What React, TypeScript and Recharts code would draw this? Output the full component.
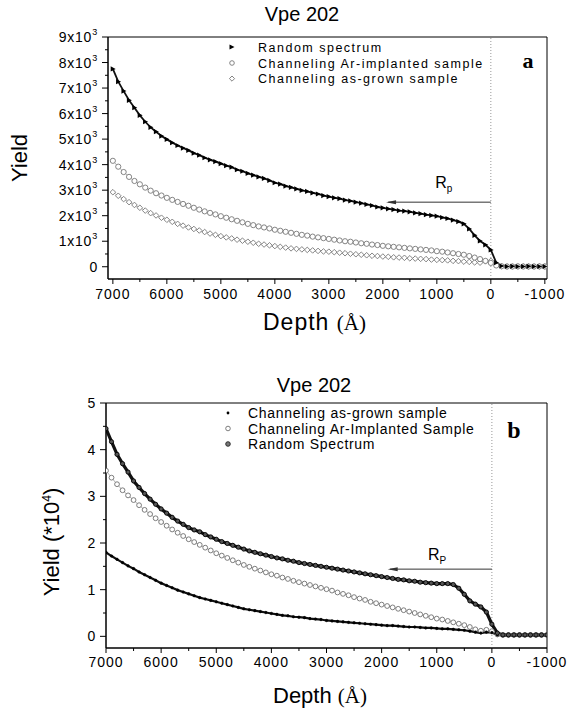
import React from 'react';
import { ComposedChart, Line, XAxis, YAxis, ReferenceLine, ReferenceDot, ReferenceArea } from 'recharts';

const FONT = '"Liberation Sans", Arial, Helvetica, sans-serif';
const SERIF = '"Liberation Serif", "Times New Roman", serif';

// Depth grid (Angstrom)
const DEPTH = [
  7000, 6900, 6800, 6700, 6600, 6500, 6400, 6300, 6200, 6100,
  6000, 5900, 5800, 5700, 5600, 5500, 5400, 5300, 5200, 5100,
  5000, 4900, 4800, 4700, 4600, 4500, 4400, 4300, 4200, 4100,
  4000, 3900, 3800, 3700, 3600, 3500, 3400, 3300, 3200, 3100,
  3000, 2900, 2800, 2700, 2600, 2500, 2400, 2300, 2200, 2100,
  2000, 1900, 1800, 1700, 1600, 1500, 1400, 1300, 1200, 1100,
  1000, 900, 800, 700, 600, 500, 400, 300, 200, 100,
  0, -100, -200, -300, -400, -500, -600, -700, -800, -900, -1000,
];

// Panel a (counts)
const RANDOM_A = [
  7750, 7250, 6880, 6520, 6230, 5930, 5680, 5460, 5290, 5120,
  4990, 4860, 4750, 4650, 4560, 4450, 4370, 4270, 4190, 4120,
  4040, 3960, 3900, 3800, 3740, 3660, 3590, 3520, 3460, 3380,
  3290, 3240, 3160, 3110, 3050, 2990, 2950, 2890, 2850, 2790,
  2750, 2700, 2670, 2610, 2580, 2530, 2490, 2440, 2400, 2340,
  2310, 2270, 2240, 2200, 2180, 2150, 2110, 2080, 2040, 2010,
  1980, 1930, 1890, 1830, 1770, 1680, 1480, 1230, 1010, 860,
  660, 160, 30, 10, 15, 10, 10, 15, 10, 10, 10,
];
const IMPLANTED_A = [
  4150, 3920, 3710, 3520, 3360, 3230, 3100, 2980, 2880, 2790,
  2700, 2620, 2540, 2460, 2390, 2310, 2240, 2170, 2110, 2050,
  1980, 1920, 1860, 1800, 1740, 1680, 1630, 1580, 1540, 1500,
  1450, 1410, 1370, 1330, 1290, 1250, 1220, 1180, 1150, 1120,
  1090, 1060, 1030, 1000, 980, 950, 920, 900, 870, 850,
  820, 800, 780, 760, 740, 720, 700, 680, 660, 640,
  610, 590, 560, 530, 500, 470, 420, 360, 300, 230,
  150, 50, 20, 10, 10, 15, 10, 10, 10, 15, 10,
];
const ASGROWN_A = [
  2920, 2780, 2650, 2530, 2420, 2310, 2200, 2100, 2010, 1920,
  1840, 1760, 1680, 1610, 1540, 1480, 1420, 1360, 1300, 1250,
  1200, 1150, 1110, 1060, 1020, 980, 940, 900, 870, 840,
  810, 780, 750, 720, 700, 680, 660, 640, 620, 600,
  590, 570, 550, 530, 510, 490, 470, 450, 430, 420,
  400, 390, 370, 360, 350, 330, 320, 310, 300, 280,
  270, 260, 250, 230, 220, 200, 190, 170, 160, 210,
  230, 70, 20, 10, 10, 10, 15, 10, 10, 10, 10,
];

// Panel b (x 10^4 counts)
const ASGROWN_B = [
  1.80, 1.72, 1.65, 1.58, 1.51, 1.45, 1.38, 1.32, 1.26, 1.20,
  1.14, 1.09, 1.04, 0.99, 0.95, 0.91, 0.87, 0.83, 0.80, 0.77,
  0.74, 0.71, 0.68, 0.65, 0.62, 0.59, 0.57, 0.55, 0.53, 0.51,
  0.49, 0.47, 0.45, 0.44, 0.42, 0.41, 0.40, 0.38, 0.37, 0.36,
  0.34, 0.33, 0.32, 0.31, 0.30, 0.29, 0.28, 0.27, 0.26, 0.25,
  0.24, 0.23, 0.23, 0.22, 0.21, 0.20, 0.20, 0.19, 0.18, 0.18,
  0.17, 0.16, 0.16, 0.15, 0.14, 0.13, 0.11, 0.09, 0.07, 0.09,
  0.08, 0.03, 0.02, 0.02, 0.02, 0.02, 0.02, 0.02, 0.02, 0.02, 0.02,
];
const IMPLANTED_B = [
  3.55, 3.40, 3.26, 3.13, 3.02, 2.92, 2.81, 2.71, 2.62, 2.53,
  2.45, 2.37, 2.29, 2.22, 2.15, 2.08, 2.02, 1.96, 1.90, 1.84,
  1.78, 1.73, 1.68, 1.63, 1.58, 1.53, 1.49, 1.45, 1.41, 1.37,
  1.33, 1.30, 1.26, 1.23, 1.19, 1.16, 1.13, 1.10, 1.07, 1.04,
  1.01, 0.98, 0.94, 0.91, 0.88, 0.84, 0.81, 0.78, 0.74, 0.71,
  0.68, 0.65, 0.62, 0.59, 0.56, 0.53, 0.50, 0.47, 0.44, 0.41,
  0.38, 0.36, 0.33, 0.30, 0.27, 0.24, 0.20, 0.15, 0.12, 0.14,
  0.11, 0.04, 0.03, 0.03, 0.03, 0.03, 0.03, 0.03, 0.03, 0.03, 0.03,
];
const RANDOM_B = [
  4.45, 4.17, 3.90, 3.70, 3.52, 3.33, 3.19, 3.06, 2.94, 2.83,
  2.73, 2.64, 2.55, 2.47, 2.40, 2.33, 2.28, 2.24, 2.18, 2.13,
  2.08, 2.03, 1.99, 1.95, 1.91, 1.87, 1.83, 1.80, 1.77, 1.74,
  1.71, 1.68, 1.66, 1.63, 1.61, 1.58, 1.56, 1.54, 1.52, 1.50,
  1.48, 1.46, 1.44, 1.42, 1.40, 1.38, 1.36, 1.34, 1.32, 1.30,
  1.28, 1.26, 1.24, 1.22, 1.21, 1.19, 1.18, 1.16, 1.15, 1.14,
  1.13, 1.13, 1.13, 1.11, 1.03, 0.90, 0.76, 0.69, 0.63, 0.52,
  0.26, 0.07, 0.03, 0.03, 0.03, 0.03, 0.03, 0.03, 0.03, 0.03, 0.03,
];

const X_TICKS = [7000, 6500, 6000, 5500, 5000, 4500, 4000, 3500, 3000, 2500, 2000, 1500, 1000, 500, 0, -500, -1000];
const Y_TICKS_A = [0, 500, 1000, 1500, 2000, 2500, 3000, 3500, 4000, 4500, 5000, 5500, 6000, 6500, 7000, 7500, 8000, 8500, 9000];
const Y_TICKS_B = [0, 0.5, 1, 1.5, 2, 2.5, 3, 3.5, 4, 4.5, 5];

const LEGEND_A = ['Random spectrum', 'Channeling Ar-implanted sample', 'Channeling as-grown sample'];
const LEGEND_B = ['Channeling as-grown sample', 'Channeling Ar-Implanted Sample', 'Random Spectrum'];

const rowsA = DEPTH.map((d, i) => ({ d, r: RANDOM_A[i], im: IMPLANTED_A[i], g: ASGROWN_A[i] }));
const rowsB = DEPTH.map((d, i) => ({ d, g: ASGROWN_B[i], im: IMPLANTED_B[i], r: RANDOM_B[i] }));

const TS = 6; // tick size
const TM = 4; // tick margin

const makeYTick = (isMajor: (v: number) => boolean, label: (v: number) => React.ReactNode) => (p: any) => {
  const { x, y, payload } = p;
  const v = payload.value;
  const axisX = x + TS + TM;
  const major = isMajor(v);
  return (
    <g>
      <line x1={axisX - (major ? 6 : 3)} x2={axisX} y1={y} y2={y} stroke="#000" strokeWidth={1} />
      {major && (
        <text x={axisX - 10} y={y + 5} textAnchor="end" fontFamily={FONT} fontSize={14} letterSpacing={0.8} fill="#000">
          {label(v)}
        </text>
      )}
    </g>
  );
};

const makeXTick = (baselineOffset: number) => (p: any) => {
  const { x, y, payload } = p;
  const v = payload.value;
  const axisY = y - TS - TM;
  const major = v % 1000 === 0;
  return (
    <g>
      <line x1={x} x2={x} y1={axisY} y2={axisY + (major ? 5 : 3)} stroke="#000" strokeWidth={1} />
      {major && (
        <text x={x} y={axisY + baselineOffset} textAnchor="middle" fontFamily={FONT} fontSize={14} letterSpacing={1} fill="#000">
          {v}
        </text>
      )}
    </g>
  );
};

const yTickA = makeYTick(
  (v) => v % 1000 === 0,
  (v) => (v === 0 ? '0' : (
    <>
      <tspan>{`${v / 1000}x10`}</tspan>
      <tspan dy={-7} fontSize={9}>3</tspan>
    </>
  ))
);
const yTickB = makeYTick((v) => Number.isInteger(v), (v) => String(v));

const triDot = (p: any) => {
  const { cx, cy, index } = p;
  if (cx == null || cy == null) return <g key={`t${index}`} />;
  return <polygon key={`t${index}`} points={`${cx - 2.2},${cy - 2.6} ${cx + 2.8},${cy} ${cx - 2.2},${cy + 2.6}`} fill="#000" />;
};
const circleDot = (r: number, stroke: string, fill: string, sw: number) => (p: any) => {
  const { cx, cy, index } = p;
  if (cx == null || cy == null) return <g key={`c${index}`} />;
  return <circle key={`c${index}`} cx={cx} cy={cy} r={r} fill={fill} stroke={stroke} strokeWidth={sw} />;
};
const diamondDot = (p: any) => {
  const { cx, cy, index } = p;
  if (cx == null || cy == null) return <g key={`d${index}`} />;
  const s = 2.8;
  return <polygon key={`d${index}`} points={`${cx},${cy - s} ${cx + s},${cy} ${cx},${cy + s} ${cx - s},${cy}`} fill="#fff" stroke="#777" strokeWidth={0.9} />;
};

const arrowHead = (p: any) => (
  <polygon points={`${p.cx},${p.cy} ${p.cx + 10},${p.cy - 2} ${p.cx + 10},${p.cy + 2}`} fill="#333" />
);
const rpLabel = (sub: string) => (p: any) => (
  <text x={p.cx} y={p.cy} fontFamily={FONT} fontSize={16} fill="#000">
    R<tspan dy={4} fontSize={10}>{sub}</tspan>
  </text>
);

const PanelA = () => (
  <ComposedChart width={567} height={345} data={rowsA} margin={{ top: 37, right: 20, bottom: 36, left: 0 }}>
    <XAxis type="number" dataKey="d" domain={[-1040, 7090]} reversed allowDataOverflow ticks={X_TICKS} interval={0}
      height={30} tickSize={TS} tickMargin={TM} tickLine={false} axisLine={{ stroke: '#000' }} tick={makeXTick(20)} />
    <YAxis type="number" domain={[-480, 9000]} allowDataOverflow ticks={Y_TICKS_A} interval={0}
      width={108} tickSize={TS} tickMargin={TM} tickLine={false} axisLine={{ stroke: '#000' }} tick={yTickA} />
    <ReferenceArea x1={-1040} x2={7090} y1={-480} y2={9000} fill="none" stroke="#000" strokeWidth={1} />
    <ReferenceLine x={0} stroke="#999" strokeDasharray="1 2" />
    <ReferenceLine segment={[{ x: 0, y: 2530 }, { x: 1900, y: 2530 }]} stroke="#333" strokeWidth={1} />
    <ReferenceDot x={1940} y={2530} shape={arrowHead} />
    <ReferenceDot x={1031} y={3070} shape={rpLabel('p')} />
    <Line type="linear" dataKey="g" stroke="#a0a0a0" strokeWidth={0.8} dot={diamondDot} activeDot={false} isAnimationActive={false} />
    <Line type="linear" dataKey="im" stroke="#a0a0a0" strokeWidth={0.8} dot={circleDot(2.6, '#777', '#fff', 0.9)} activeDot={false} isAnimationActive={false} />
    <Line type="linear" dataKey="r" stroke="#111" strokeWidth={1.8} dot={triDot} activeDot={false} isAnimationActive={false} />
  </ComposedChart>
);

const PanelB = () => (
  <ComposedChart width={567} height={351} data={rowsB} margin={{ top: 43, right: 20, bottom: 33, left: 0 }}>
    <XAxis type="number" dataKey="d" domain={[-1000, 7000]} reversed allowDataOverflow ticks={X_TICKS} interval={0}
      height={30} tickSize={TS} tickMargin={TM} tickLine={false} axisLine={{ stroke: '#000' }} tick={makeXTick(19)} />
    <YAxis type="number" domain={[-0.25, 5]} allowDataOverflow ticks={Y_TICKS_B} interval={0}
      width={106} tickSize={TS} tickMargin={TM} tickLine={false} axisLine={{ stroke: '#000' }} tick={yTickB} />
    <ReferenceArea x1={-1000} x2={7000} y1={-0.25} y2={5} fill="none" stroke="#000" strokeWidth={1} />
    <ReferenceLine x={0} stroke="#999" strokeDasharray="1 2" />
    <ReferenceLine segment={[{ x: 0, y: 1.44 }, { x: 1850, y: 1.44 }]} stroke="#333" strokeWidth={1} />
    <ReferenceDot x={1890} y={1.44} shape={arrowHead} />
    <ReferenceDot x={1160} y={1.63} shape={rpLabel('P')} />
    <Line type="linear" dataKey="im" stroke="#999" strokeWidth={0.8} dot={circleDot(2.4, '#6f6f6f', '#fff', 0.9)} activeDot={false} isAnimationActive={false} />
    <Line type="linear" dataKey="g" stroke="#111" strokeWidth={2.2} dot={circleDot(1.3, '#000', '#000', 0.5)} activeDot={false} isAnimationActive={false} />
    <Line type="linear" dataKey="r" stroke="#111" strokeWidth={3.2} dot={circleDot(2.1, '#000', '#555', 0.9)} activeDot={false} isAnimationActive={false} />
  </ComposedChart>
);

const Overlay = () => (
  <svg width={567} height={711} style={{ position: 'absolute', left: 0, top: 0, pointerEvents: 'none' }}>
    {/* Panel a texts */}
    <text x={302} y={21} textAnchor="middle" fontFamily={FONT} fontSize={20} fill="#000">Vpe 202</text>
    <text transform="translate(27,158) rotate(-90)" textAnchor="middle" fontFamily={FONT} fontSize={22} fill="#000">Yield</text>
    <text x={263} y={330} fontFamily={FONT} fontSize={23} letterSpacing={1} fill="#000">
      Depth <tspan fontFamily={SERIF} fontSize={21} letterSpacing={0}>(Å)</tspan>
    </text>
    <g>
      <polygon points="229.5,44.5 234.5,47 229.5,49.5" fill="#000" />
      <circle cx={232} cy={63} r={2.3} fill="#fff" stroke="#777" strokeWidth={0.9} />
      <polygon points="232,76 234.6,78.6 232,81.2 229.4,78.6" fill="#fff" stroke="#777" strokeWidth={0.9} />
      {LEGEND_A.map((t, i) => (
        <text key={t} x={258} y={52 + i * 15.7} fontFamily={FONT} fontSize={12.5} letterSpacing={1.5} fill="#000">{t}</text>
      ))}
    </g>
    <text x={528} y={68} textAnchor="middle" fontFamily={SERIF} fontWeight="bold" fontSize={22} fill="#000">a</text>

    {/* Panel b texts */}
    <text x={314} y={392} textAnchor="middle" fontFamily={FONT} fontSize={20} fill="#000">Vpe 202</text>
    <text transform="translate(59,542) rotate(-90)" textAnchor="middle" fontFamily={FONT} fontSize={22} fill="#000">
      Yield (*10<tspan dy={-8} fontSize={12}>4</tspan><tspan dy={8}>)</tspan>
    </text>
    <text x={273} y={703} fontFamily={FONT} fontSize={22} fill="#000">
      Depth <tspan fontFamily={SERIF} fontSize={21}>(Å)</tspan>
    </text>
    <g>
      <circle cx={228} cy={413} r={1.4} fill="#000" />
      <circle cx={228} cy={428.5} r={2.3} fill="#fff" stroke="#6f6f6f" strokeWidth={0.9} />
      <circle cx={228} cy={444} r={2.3} fill="#777" stroke="#222" strokeWidth={0.9} />
      {LEGEND_B.map((t, i) => (
        <text key={t} x={248} y={418 + i * 15.5} fontFamily={FONT} fontSize={14} letterSpacing={0.7} fill="#000">{t}</text>
      ))}
    </g>
    <text x={514} y={438} textAnchor="middle" fontFamily={SERIF} fontWeight="bold" fontSize={24} fill="#000">b</text>
  </svg>
);

export default function App() {
  return (
    <div style={{ position: 'absolute', left: 0, top: 0, width: 567, height: 711, background: '#fff' }}>
      <div style={{ position: 'absolute', left: 0, top: 0 }}>
        <PanelA />
      </div>
      <div style={{ position: 'absolute', left: 0, top: 360 }}>
        <PanelB />
      </div>
      <Overlay />
    </div>
  );
}
